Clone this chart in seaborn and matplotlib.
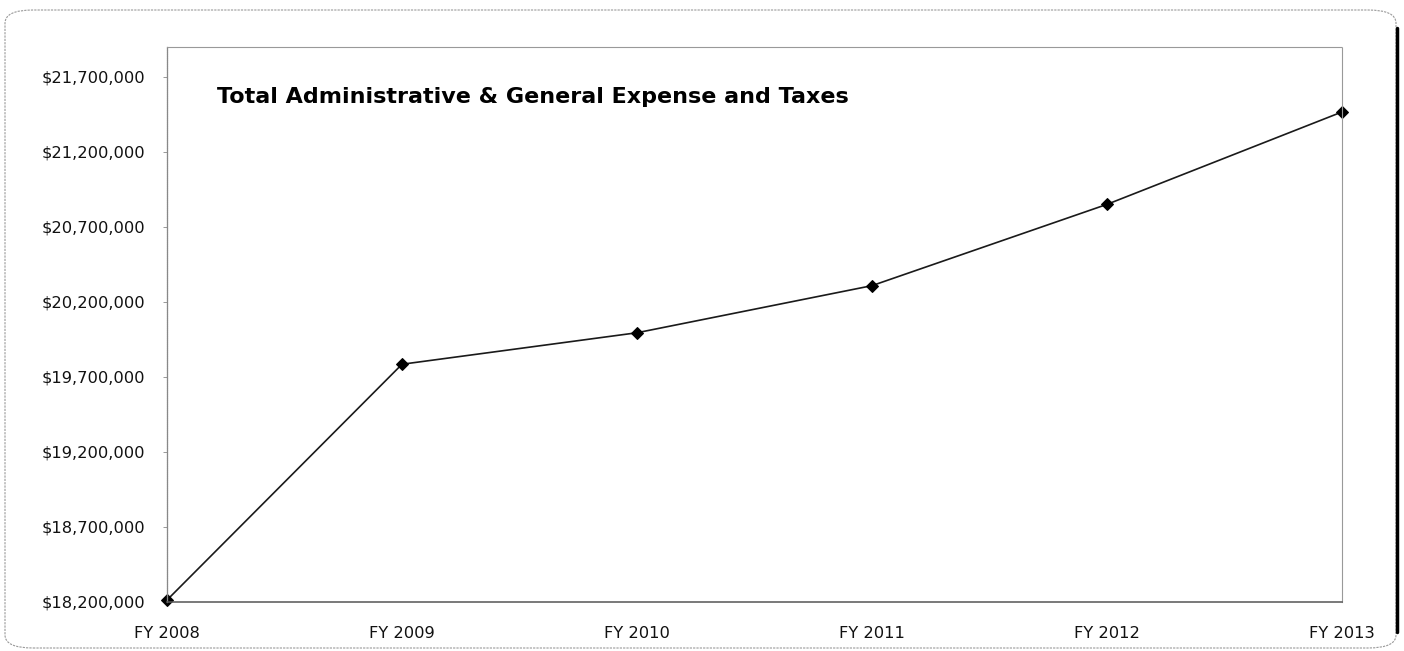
import matplotlib
matplotlib.use("Agg")
import matplotlib.pyplot as plt
import seaborn as sns
import pandas as pd
from matplotlib.patches import FancyBboxPatch
from matplotlib.ticker import FuncFormatter
from matplotlib.lines import Line2D

years = ["FY 2008", "FY 2009", "FY 2010", "FY 2011", "FY 2012", "FY 2013"]
expense = [18213000, 19785000, 19995000, 20309000, 20851000, 21467000]
y_min, y_max, y_step = 18200000, 21900000, 500000
title = "Total Administrative & General Expense and Taxes"

sns.set_theme(style="white")
plt.rcParams['font.family'] = ['DejaVu Sans']

fig = plt.figure(figsize=(14.04, 6.51), dpi=100)
ax = fig.add_axes([167/1404, 1-602/651, (1342-167)/1404, (602-47)/651])

df = pd.DataFrame({"year": years, "expense": expense})
df["pos"] = range(len(years))
sns.lineplot(data=df, x="pos", y="expense", ax=ax, color="#1a1a1a", linewidth=1.2,
             marker="D", markersize=6.5, markerfacecolor="black", markeredgecolor="black")
for ln in ax.lines:
    ln.set_clip_on(False)

ax.set_xlim(0, len(years) - 1)
ax.set_ylim(y_min, y_max)
ax.set_xticks(range(len(years)))
ax.set_xticklabels(years)
ax.set_yticks([y_min + i * y_step for i in range(8)])
ax.yaxis.set_major_formatter(FuncFormatter(lambda v, p: f"${v:,.0f}"))
ax.set_xlabel("")
ax.set_ylabel("")
ax.tick_params(axis="y", which="major", left=True, length=3, width=0.6, color="#888888",
               pad=13, labelsize=11.7, labelcolor="#111111")
ax.tick_params(axis="x", which="major", bottom=False, pad=11.5, labelsize=11.7, labelcolor="#111111")

for side in ["top", "right"]:
    ax.spines[side].set_color("#999999")
    ax.spines[side].set_linewidth(0.8)
    ax.spines[side].set_linestyle((0, (1, 1)))
ax.spines["left"].set_color("#888888")
ax.spines["left"].set_linewidth(0.9)
ax.spines["left"].set_linestyle((0, (1, 0.6)))
ax.spines["bottom"].set_color("#555555")
ax.spines["bottom"].set_linewidth(1.1)

ax.text(0.0426, 0.91, title, transform=ax.transAxes, ha="left", va="center",
        fontsize=16, fontweight="bold", color="black")

# outer chart frame
frame = FancyBboxPatch((5/1404, 3/651), (1396-5)/1404, (641-3)/651,
                       boxstyle="round,pad=0,rounding_size=0.02",
                       transform=fig.transFigure, fill=False, edgecolor="#999999",
                       linewidth=0.8, linestyle=(0, (2, 1)))
fig.patches.append(frame)
fig.add_artist(Line2D([1397/1404, 1397/1404], [1-632/651, 1-28/651], transform=fig.transFigure,
                      color="black", linewidth=2.5))

fig.savefig("out.png", dpi=100, facecolor="white")
